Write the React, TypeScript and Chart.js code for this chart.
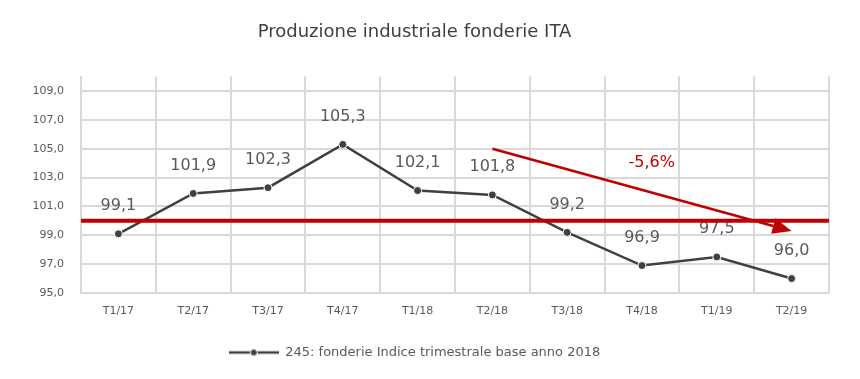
import React, { useEffect, useRef } from "react";
import { Chart, registerables } from "chart.js";

Chart.register(...registerables);

const TITLE = "Produzione industriale fonderie ITA";
const SERIES_LABEL = "245: fonderie Indice trimestrale base anno 2018";
const CATEGORIES = ["T1/17", "T2/17", "T3/17", "T4/17", "T1/18", "T2/18", "T3/18", "T4/18", "T1/19", "T2/19"];
const VALUES = [99.1, 101.9, 102.3, 105.3, 102.1, 101.8, 99.2, 96.9, 97.5, 96.0];
const Y_TICKS = [95, 97, 99, 101, 103, 105, 107, 109];
const Y_MIN = 95;
const Y_MAX = 110;
const REFERENCE_VALUE = 100;
const ARROW_START = { x: 5, y: 105.0 };
const ARROW_END = { x: 9, y: 99.3 };
const ARROW_LABEL = "-5,6%";
const ARROW_LABEL_POS = { x: 7.13, y: 104.0 };

const FONT = "'DejaVu Sans', sans-serif";
const RED = "#c00000";
const DARK = "#404040";
const GRID = "#d9d9d9";
const TEXT = "#595959";

const fmt = (v: number) => v.toFixed(1).replace(".", ",");

function makeLegendMarker() {
  const c = document.createElement("canvas");
  c.width = 50;
  c.height = 10;
  const ctx = c.getContext("2d")!;
  ctx.strokeStyle = DARK;
  ctx.lineWidth = 2.5;
  ctx.beginPath();
  ctx.moveTo(0, 5);
  ctx.lineTo(50, 5);
  ctx.stroke();
  ctx.fillStyle = DARK;
  ctx.strokeStyle = "#ffffff";
  ctx.lineWidth = 1;
  ctx.beginPath();
  ctx.arc(25, 5, 3.5, 0, Math.PI * 2);
  ctx.fill();
  ctx.stroke();
  return c;
}

const overlayPlugin = {
  id: "overlay",
  afterDatasetsDraw(chart: any) {
    const { ctx, chartArea, scales } = chart;
    const xs = scales.x;
    const ys = scales.y;
    ctx.save();
    // data labels
    ctx.font = `16px ${FONT}`;
    ctx.fillStyle = TEXT;
    ctx.textAlign = "center";
    ctx.textBaseline = "middle";
    const meta = chart.getDatasetMeta(0);
    meta.data.forEach((pt: any, i: number) => {
      ctx.fillText(fmt(VALUES[i]), pt.x, pt.y - 28);
    });
    // reference line
    const yRef = ys.getPixelForValue(REFERENCE_VALUE);
    ctx.strokeStyle = RED;
    ctx.lineWidth = 4;
    ctx.beginPath();
    ctx.moveTo(chartArea.left, yRef);
    ctx.lineTo(chartArea.right, yRef);
    ctx.stroke();
    // arrow
    const x1 = xs.getPixelForValue(ARROW_START.x);
    const y1 = ys.getPixelForValue(ARROW_START.y);
    const x2 = xs.getPixelForValue(ARROW_END.x);
    const y2 = ys.getPixelForValue(ARROW_END.y);
    const ang = Math.atan2(y2 - y1, x2 - x1);
    const headLen = 19;
    const headHalf = 8;
    const bx = x2 - headLen * Math.cos(ang);
    const by = y2 - headLen * Math.sin(ang);
    ctx.lineWidth = 2.5;
    ctx.beginPath();
    ctx.moveTo(x1, y1);
    ctx.lineTo(bx, by);
    ctx.stroke();
    ctx.fillStyle = RED;
    ctx.beginPath();
    ctx.moveTo(x2, y2);
    ctx.lineTo(bx + headHalf * Math.sin(ang), by - headHalf * Math.cos(ang));
    ctx.lineTo(bx - headHalf * Math.sin(ang), by + headHalf * Math.cos(ang));
    ctx.closePath();
    ctx.fill();
    // arrow label
    ctx.fillStyle = RED;
    ctx.font = `16px ${FONT}`;
    ctx.fillText(ARROW_LABEL, xs.getPixelForValue(ARROW_LABEL_POS.x), ys.getPixelForValue(ARROW_LABEL_POS.y));
    ctx.restore();
  },
};

export default function App() {
  const ref = useRef<HTMLCanvasElement>(null);
  useEffect(() => {
    document.body.style.margin = "0";
    const marker = makeLegendMarker();
    const chart = new Chart(ref.current!, {
      type: "line",
      data: {
        labels: CATEGORIES,
        datasets: [
          {
            label: SERIES_LABEL,
            data: VALUES,
            borderColor: DARK,
            borderWidth: 2.5,
            backgroundColor: DARK,
            pointBackgroundColor: DARK,
            pointBorderColor: "#ffffff",
            pointBorderWidth: 1,
            pointRadius: 4,
            tension: 0,
          },
        ],
      },
      options: {
        responsive: false,
        animation: false,
        layout: { padding: { left: 0, right: 31, top: 0, bottom: 10 } },
        plugins: {
          title: {
            display: true,
            text: TITLE,
            color: DARK,
            font: { family: FONT, size: 18, weight: "normal" },
            padding: { top: 22, bottom: 33 },
          },
          legend: {
            position: "bottom",
            labels: {
              color: TEXT,
              font: { family: FONT, size: 13 },
              usePointStyle: true,
              pointStyleWidth: 50,
              padding: 10,
              generateLabels: () => [
                {
                  text: SERIES_LABEL,
                  pointStyle: marker as any,
                  fillStyle: DARK,
                  strokeStyle: DARK,
                  lineWidth: 0,
                  hidden: false,
                  datasetIndex: 0,
                  fontColor: TEXT,
                } as any,
              ],
            },
          },
          tooltip: { enabled: false },
        },
        scales: {
          x: {
            offset: true,
            grid: { color: GRID, lineWidth: 2, drawTicks: false, offset: true },
            border: { color: GRID, width: 2 },
            ticks: { color: TEXT, font: { family: FONT, size: 11 }, padding: 12 },
            afterFit: (s: any) => {
              s.height = 43;
            },
          },
          y: {
            min: Y_MIN,
            max: Y_MAX,
            grid: { color: GRID, lineWidth: 2, drawTicks: false },
            border: { color: GRID, width: 2 },
            ticks: {
              color: TEXT,
              font: { family: FONT, size: 11 },
              padding: 17,
              callback: (v: any) => fmt(Number(v)),
            },
            afterBuildTicks: (s: any) => {
              s.ticks = Y_TICKS.map((v) => ({ value: v }));
            },
            afterFit: (s: any) => {
              s.width = 81;
            },
          },
        },
      },
      plugins: [overlayPlugin],
    });
    return () => chart.destroy();
  }, []);
  return <canvas ref={ref} width={860} height={379} style={{ display: "block" }} />;
}
